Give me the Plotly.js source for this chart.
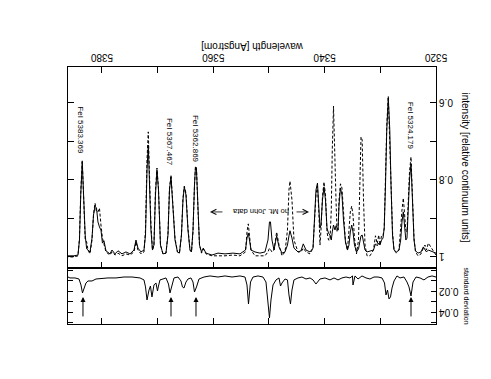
<!DOCTYPE html>
<html>
<head>
<meta charset="utf-8">
<script src="https://cdn.plot.ly/plotly-3.0.1.min.js"></script>
<style>
html,body{margin:0;padding:0;background:#fff;overflow:hidden;}
#plot{width:491px;height:379px;transform:rotate(180deg);transform-origin:50% 50%;}
</style>
</head>
<body>
<div id="plot"></div>
<script>
// wavelength grid [Angstrom]
const wavelength = [5320.00,5320.54,5320.99,5321.38,5321.71,5321.98,5322.28,5322.69,5323.23,5323.68,
5323.95,5324.19,5324.49,5324.76,5324.98,5325.21,5325.42,5325.66,5325.87,5326.11,
5326.34,5326.65,5327.10,5327.54,5327.81,5328.08,5328.30,5328.57,5328.84,5329.07,
5329.30,5329.52,5329.79,5330.06,5330.29,5330.56,5330.87,5331.23,5331.86,5332.39,
5332.75,5333.02,5333.26,5333.47,5333.69,5333.92,5334.28,5334.64,5334.91,5335.14,
5335.39,5335.63,5335.90,5336.26,5336.62,5336.89,5337.16,5337.42,5337.60,5337.78,
5337.96,5338.14,5338.41,5338.63,5338.81,5339.04,5339.31,5339.58,5339.85,5340.12,
5340.39,5340.66,5340.84,5341.02,5341.29,5341.56,5341.83,5342.09,5342.63,5343.35,
5343.84,5344.25,5344.79,5345.51,5345.87,5346.05,5346.23,5346.41,5346.68,5347.12,
5347.66,5348.20,5348.47,5348.62,5348.83,5349.10,5349.46,5349.73,5349.91,5350.18,
5350.72,5351.62,5352.51,5353.23,5353.50,5353.72,5353.95,5354.22,5355.21,5356.47,
5357.90,5359.16,5360.24,5361.31,5361.80,5362.12,5362.48,5362.75,5363.02,5363.20,
5363.38,5363.65,5363.92,5364.19,5364.55,5364.91,5365.21,5365.45,5365.72,5366.08,
5366.44,5366.88,5367.33,5367.60,5367.87,5368.14,5368.50,5369.04,5369.49,5369.85,
5370.12,5370.39,5370.66,5370.93,5371.20,5371.46,5371.68,5371.91,5372.18,5372.45,
5372.99,5373.53,5373.89,5374.25,5374.97,5375.69,5376.40,5377.12,5377.66,5378.20,
5378.56,5379.28,5379.64,5379.91,5380.18,5380.45,5380.72,5380.98,5381.25,5381.52,
5381.79,5382.15,5382.51,5382.75,5383.01,5383.23,5383.54,5383.81,5384.04,5384.31,
5385.03,5385.75,5386.10];

// solid spectrum [relative continuum units]
const fluxSolid = [0.990,0.987,0.984,0.982,0.987,0.979,0.974,0.987,0.990,0.984,
0.956,0.865,0.758,0.800,0.891,0.951,0.956,0.909,0.883,0.909,
0.956,0.982,0.987,0.982,0.943,0.813,0.670,0.587,0.670,0.813,
0.925,0.951,0.956,0.969,0.964,0.971,0.966,0.982,0.984,0.987,
0.982,0.956,0.943,0.945,0.961,0.979,0.987,0.969,0.935,0.917,
0.935,0.969,0.982,0.961,0.904,0.839,0.821,0.865,0.930,0.925,
0.919,0.930,0.917,0.935,0.956,0.943,0.938,0.925,0.852,0.818,
0.852,0.917,0.925,0.878,0.808,0.826,0.917,0.977,0.987,0.982,
0.966,0.984,0.987,0.977,0.951,0.938,0.932,0.945,0.969,0.987,
0.990,0.974,0.951,0.945,0.961,0.982,0.956,0.909,0.909,0.956,
0.987,0.990,0.987,0.982,0.956,0.938,0.951,0.982,0.992,0.990,
0.992,0.990,0.995,0.990,0.977,0.987,0.969,0.878,0.774,0.766,
0.813,0.930,0.987,0.982,0.930,0.839,0.818,0.852,0.943,0.990,
0.987,0.956,0.839,0.792,0.826,0.943,0.990,0.992,0.969,0.826,
0.774,0.839,0.969,0.982,0.930,0.774,0.709,0.774,0.943,0.982,
0.987,0.977,0.956,0.982,0.992,0.987,0.992,0.984,0.992,0.982,
0.992,0.984,0.958,0.964,0.930,0.922,0.909,0.873,0.868,0.891,
0.951,0.987,0.982,0.979,0.943,0.852,0.753,0.839,0.956,0.995,
0.997,0.997,0.997];

// dashed spectrum [relative continuum units]
const fluxDashed = [0.995,0.982,0.971,0.964,0.982,0.969,0.977,0.992,0.997,0.987,
0.951,0.847,0.740,0.779,0.878,0.935,0.930,0.878,0.847,0.878,
0.935,0.982,0.990,0.982,0.935,0.800,0.657,0.582,0.657,0.800,
0.925,0.945,0.945,0.969,0.943,0.966,0.945,0.982,0.997,0.997,
0.969,0.852,0.696,0.688,0.826,0.956,0.992,0.951,0.891,0.868,
0.883,0.945,0.982,0.961,0.878,0.821,0.810,0.852,0.930,0.935,
0.852,0.722,0.608,0.722,0.878,0.956,0.956,0.935,0.839,0.805,
0.842,0.930,0.969,0.891,0.816,0.839,0.917,0.977,0.992,0.987,
0.977,0.987,0.987,0.956,0.852,0.813,0.803,0.826,0.930,0.987,
0.997,0.969,0.945,0.935,0.956,0.982,0.987,0.982,0.977,0.987,
0.997,0.997,0.997,0.982,0.935,0.914,0.935,0.987,0.997,0.995,
0.997,0.997,0.997,0.992,0.979,0.990,0.969,0.878,0.769,0.764,
0.813,0.935,0.987,0.982,0.925,0.834,0.816,0.847,0.943,0.990,
0.987,0.951,0.834,0.787,0.821,0.938,0.990,0.992,0.969,0.821,
0.769,0.826,0.969,0.982,0.917,0.748,0.675,0.748,0.930,0.987,
0.992,0.982,0.961,0.987,0.995,0.992,0.997,0.990,0.995,0.987,
0.995,0.987,0.969,0.951,0.917,0.873,0.883,0.883,0.860,0.891,
0.956,0.992,0.982,0.961,0.956,0.852,0.748,0.831,0.951,0.997,
1.000,1.000,1.000];

// standard deviation panel
const stdWavelength = [5320.00,5320.72,5321.44,5322.16,5322.87,5323.59,5324.13,5324.49,5324.85,5325.21,
5325.75,5326.47,5327.01,5327.54,5327.90,5328.17,5328.44,5328.71,5328.98,5329.25,
5329.70,5330.42,5331.14,5331.86,5332.57,5333.29,5334.01,5334.55,5334.91,5335.00,
5335.45,5336.17,5336.89,5337.60,5338.32,5339.04,5339.94,5340.84,5341.56,5342.09,
5342.63,5343.35,5344.07,5344.79,5345.51,5345.87,5346.14,5346.41,5346.68,5347.12,
5347.66,5347.93,5348.20,5348.74,5349.28,5349.64,5349.91,5350.18,5350.54,5351.08,
5351.97,5352.87,5353.32,5353.68,5353.95,5354.31,5355.21,5356.64,5357.90,5359.16,
5360.60,5361.67,5362.57,5363.02,5363.38,5363.65,5364.01,5364.55,5364.91,5365.27,
5365.54,5365.81,5366.34,5367.06,5367.42,5367.78,5368.05,5368.50,5369.04,5369.58,
5369.85,5370.03,5370.30,5370.66,5371.02,5371.29,5371.55,5371.91,5372.18,5372.45,
5373.17,5374.61,5376.04,5377.48,5378.92,5380.36,5381.07,5381.79,5382.51,5382.87,
5383.23,5383.50,5383.77,5384.13,5384.85,5385.75,5386.10];
const stdDev = [0.0062,0.0052,0.0062,0.0090,0.0071,0.0062,0.0110,0.0243,0.0157,0.0110,
0.0062,0.0071,0.0052,0.0100,0.0167,0.0252,0.0271,0.0186,0.0233,0.0119,
0.0071,0.0062,0.0062,0.0081,0.0071,0.0052,0.0081,0.0052,0.0138,0.0052,
0.0071,0.0062,0.0071,0.0090,0.0071,0.0090,0.0071,0.0081,0.0129,0.0090,
0.0071,0.0081,0.0062,0.0071,0.0090,0.0186,0.0319,0.0233,0.0090,0.0081,
0.0119,0.0148,0.0071,0.0090,0.0138,0.0281,0.0452,0.0281,0.0110,0.0062,
0.0052,0.0062,0.0110,0.0319,0.0138,0.0062,0.0052,0.0062,0.0052,0.0062,
0.0052,0.0062,0.0081,0.0157,0.0205,0.0110,0.0071,0.0081,0.0110,0.0167,
0.0157,0.0100,0.0062,0.0071,0.0138,0.0214,0.0129,0.0071,0.0081,0.0090,
0.0148,0.0195,0.0119,0.0138,0.0252,0.0148,0.0186,0.0281,0.0157,0.0090,
0.0071,0.0062,0.0062,0.0071,0.0071,0.0081,0.0081,0.0100,0.0100,0.0119,
0.0186,0.0214,0.0138,0.0081,0.0071,0.0071,0.0062];

// identified lines
const lineLabels = ['FeI 5383.369','FeI 5367.467','FeI 5362.869','FeI 5324.179'];
const markedLines = [5383.41,5367.60,5363.11,5324.49];
const noDataText = 'no Mt. John data';

const FONT = '"Liberation Sans", Arial, Helvetica, sans-serif';
const labelPos = [[5383.95,0.671],[5367.87,0.700],[5363.20,0.692],[5324.58,0.658]];

const traces = [
  {x: wavelength, y: fluxDashed, xaxis:'x', yaxis:'y', mode:'lines',
   line:{color:'#000', width:1, dash:'3px,2px'}, hoverinfo:'skip'},
  {x: wavelength, y: fluxSolid, xaxis:'x', yaxis:'y', mode:'lines',
   line:{color:'#000', width:1}, hoverinfo:'skip'},
  {x: stdWavelength, y: stdDev, xaxis:'x2', yaxis:'y2', mode:'lines',
   line:{color:'#000', width:1}, hoverinfo:'skip'}
];

const annotations = [];
lineLabels.forEach((t,i)=>{
  annotations.push({x:labelPos[i][0], y:labelPos[i][1], xref:'x', yref:'y', text:t,
    textangle:-90, showarrow:false, xanchor:'center', yanchor:'middle',
    font:{family:FONT, size:8, color:'#000'}});
});
markedLines.forEach(w=>{
  annotations.push({x:w, y:0.0252, xref:'x2', yref:'y2', ax:w, ay:0.0452,
    axref:'x2', ayref:'y2', text:'', showarrow:true, arrowhead:2, arrowsize:1,
    arrowwidth:1, arrowcolor:'#000', standoff:0});
});
annotations.push({x:5351.61, y:0.883, xref:'x', yref:'y', text:noDataText, showarrow:false,
  xanchor:'center', yanchor:'middle', font:{family:FONT, size:7.5, color:'#000'}});
// arrow pointing to lower wavelengths
annotations.push({x:5342.81, y:0.883, xref:'x', yref:'y', ax:14, ay:0, text:'', showarrow:true,
  arrowhead:5, arrowsize:1.3, arrowwidth:0.8, arrowcolor:'#000', standoff:0});
// arrow pointing to higher wavelengths
annotations.push({x:5360.60, y:0.883, xref:'x', yref:'y', ax:-14, ay:0, text:'', showarrow:true,
  arrowhead:5, arrowsize:1.3, arrowwidth:0.8, arrowcolor:'#000', standoff:0});

const axisCommon = {showline:true, linecolor:'#000', linewidth:1, ticks:'inside',
  ticklen:6, tickcolor:'#000', tickwidth:1, showgrid:false, zeroline:false,
  tickfont:{family:FONT, size:10, color:'#000'}};

const layout = {
  width:491, height:379,
  margin:{l:55, r:68, t:55, b:67},
  paper_bgcolor:'#fff', plot_bgcolor:'#fff',
  showlegend:false,
  font:{family:FONT, size:10, color:'#000'},
  xaxis: Object.assign({}, axisCommon, {
    domain:[0,1], anchor:'y', range:[5320,5386.1], tick0:5320, dtick:20,
    mirror:'ticks', minor:{dtick:10, tick0:5320, ticks:'inside', ticklen:6, tickcolor:'#000'},
    title:{text:'wavelength [Angstrom]', font:{family:FONT, size:10, color:'#000'}, standoff:2}
  }),
  yaxis: Object.assign({}, axisCommon, {
    domain:[0,0.782], anchor:'x', range:[0.5065,1.0286], tick0:0.6, dtick:0.2,
    mirror:'ticks', minor:{dtick:0.1, tick0:0.6, ticks:'inside', ticklen:6, tickcolor:'#000'},
    title:{text:'intensity [relative continuum units]', font:{family:FONT, size:10, color:'#000'}, standoff:6}
  }),
  xaxis2: Object.assign({}, axisCommon, {
    domain:[0,1], anchor:'y2', side:'top', range:[5320,5386.1], tick0:5320, dtick:20,
    showticklabels:false, mirror:true,
    minor:{dtick:10, tick0:5320, ticks:'inside', ticklen:6, tickcolor:'#000'}
  }),
  yaxis2: Object.assign({}, axisCommon, {
    domain:[0.782,1], anchor:'x2', range:[-0.0024,0.051],
    tickvals:[0.02,0.04], ticktext:['0.02','0.04'], mirror:'ticks', ticklen:5,
    minor:{dtick:0.01, tick0:0, ticks:'inside', ticklen:5, tickcolor:'#000'},
    title:{text:'standard deviation', font:{family:FONT, size:7, color:'#000'}, standoff:4}
  }),
  annotations: annotations
};

Plotly.newPlot('plot', traces, layout, {displayModeBar:false, staticPlot:true});
</script>
</body>
</html>
